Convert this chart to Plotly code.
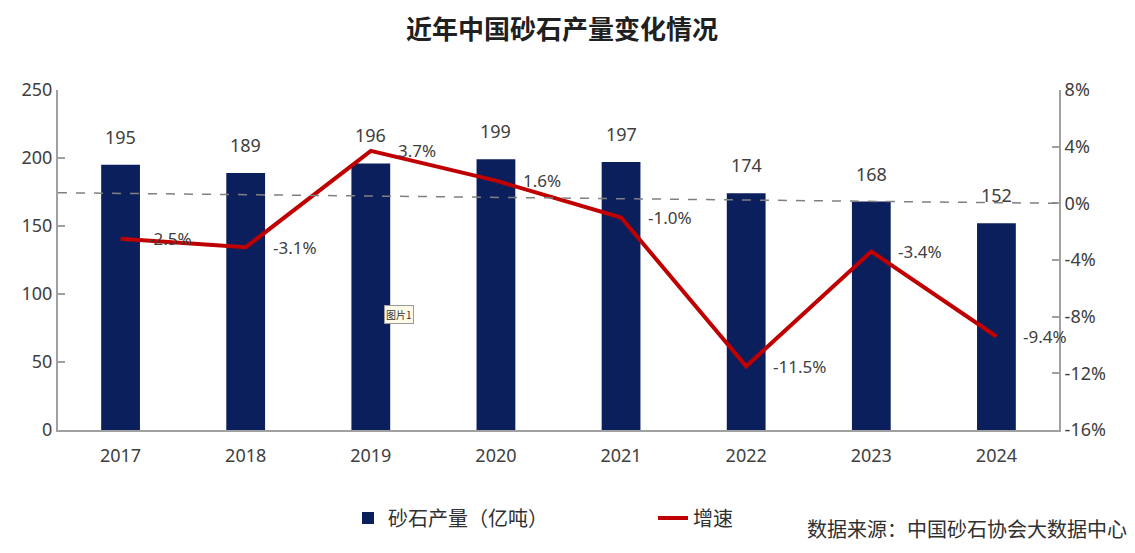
import plotly.graph_objects as go

years = ["2017", "2018", "2019", "2020", "2021", "2022", "2023", "2024"]
output = [195, 189, 196, 199, 197, 174, 168, 152]
growth = [-2.5, -3.1, 3.7, 1.6, -1.0, -11.5, -3.4, -9.4]
growth_labels = ["-2.5%", "-3.1%", "3.7%", "1.6%", "-1.0%", "-11.5%", "-3.4%", "-9.4%"]
left_ticks = [0, 50, 100, 150, 200, 250]
right_ticks = [-16, -12, -8, -4, 0, 4, 8]
right_tick_text = ["-16%", "-12%", "-8%", "-4%", "0%", "4%", "8%"]

NAVY = "#0b1f5c"
RED = "#c00000"
TXT = "#404040"
AX = "#a0a0a0"
FONT = "Noto Sans, Noto Sans CJK SC, sans-serif"

# page body has an 8px margin; work in page pixels and convert
OFF = 8
W, H = 1125, 537
ml = 58 - OFF
mt = 90 - OFF
mr = W - (1059 - OFF)
mb = H - (430 - OFF)
pw, ph = W - ml - mr, H - mt - mb


def px(xp):
    return (xp - OFF - ml) / pw


def py(yp):
    return (H - mb - (yp - OFF)) / ph


fig = go.Figure()
fig.add_trace(go.Bar(
    x=years, y=output, name="砂石产量（亿吨）", marker_color=NAVY,
    marker_line_width=0, yaxis="y"))
fig.add_trace(go.Scatter(
    x=years, y=growth, name="增速", mode="lines",
    line=dict(color=RED, width=4), yaxis="y2"))

ann = []
for i, v in enumerate(output):
    ann.append(dict(x=i, y=v, xref="x", yref="y", text=str(v), showarrow=False,
                    yanchor="bottom", yshift=14, font=dict(size=18, color=TXT, family=FONT)))
for i, (v, t) in enumerate(zip(growth, growth_labels)):
    ann.append(dict(x=i, y=v, xref="x", yref="y2", text=t, showarrow=False,
                    xanchor="left", yanchor="middle", xshift=25,
                    font=dict(size=17, color=TXT, family=FONT)))
ann.append(dict(x=px(1129), y=py(528), xref="paper", yref="paper",
                text="数据来源：中国砂石协会大数据中心",
                showarrow=False, xanchor="right", yanchor="middle",
                font=dict(size=20, color="#303030", family="Noto Sans CJK SC")))
ann.append(dict(x=px(562), y=py(27), xref="paper", yref="paper",
                text="<b>近年中国砂石产量变化情况</b>",
                showarrow=False, xanchor="center", yanchor="middle",
                font=dict(size=26, color="#202020", family="Noto Sans CJK SC")))
ann.append(dict(text="图片1", x=2, y=85, xref="x", yref="y", xshift=28, showarrow=False,
                bgcolor="#fdfbe8", bordercolor="#9a9a9a", borderwidth=1, borderpad=1,
                font=dict(size=10, color="#333333", family="Noto Sans CJK SC")))

fig.update_layout(
    width=W, height=H,
    margin=dict(l=ml, r=mr, t=mt, b=mb, autoexpand=False),
    plot_bgcolor="white", paper_bgcolor="white",
    bargap=0.69,
    showlegend=True,
    legend=dict(orientation="h", x=px(348), y=py(518),
                xanchor="left", yanchor="middle", entrywidth=260,
                font=dict(size=20, color="#303030", family="Noto Sans CJK SC")),
    xaxis=dict(type="category", range=[-0.5, 7.5], showline=True, linecolor=AX, linewidth=2,
               ticks="", ticklabelstandoff=8, tickfont=dict(size=18, color=TXT, family=FONT),
               showgrid=False, fixedrange=True),
    yaxis=dict(range=[0, 250], tickvals=left_ticks, showline=True, linecolor=AX, linewidth=2,
               ticks="inside", ticklen=7, tickcolor=AX, tickwidth=2,
               showgrid=False, zeroline=False,
               tickfont=dict(size=18, color=TXT, family=FONT)),
    yaxis2=dict(range=[-16, 8], tickvals=right_ticks, ticktext=right_tick_text, overlaying="y",
                side="right", showline=True, linecolor=AX, linewidth=2,
                ticks="inside", ticklen=7, tickcolor=AX, tickwidth=2,
                showgrid=False, zeroline=False,
                tickfont=dict(size=18, color=TXT, family=FONT)),
    annotations=ann,
    shapes=[dict(type="line", xref="paper", yref="y2", x0=0, x1=1, y0=0.75, y1=0,
                 line=dict(color="#808080", width=1.5, dash="dash"), layer="above")],
)

fig.write_html("out.html")
